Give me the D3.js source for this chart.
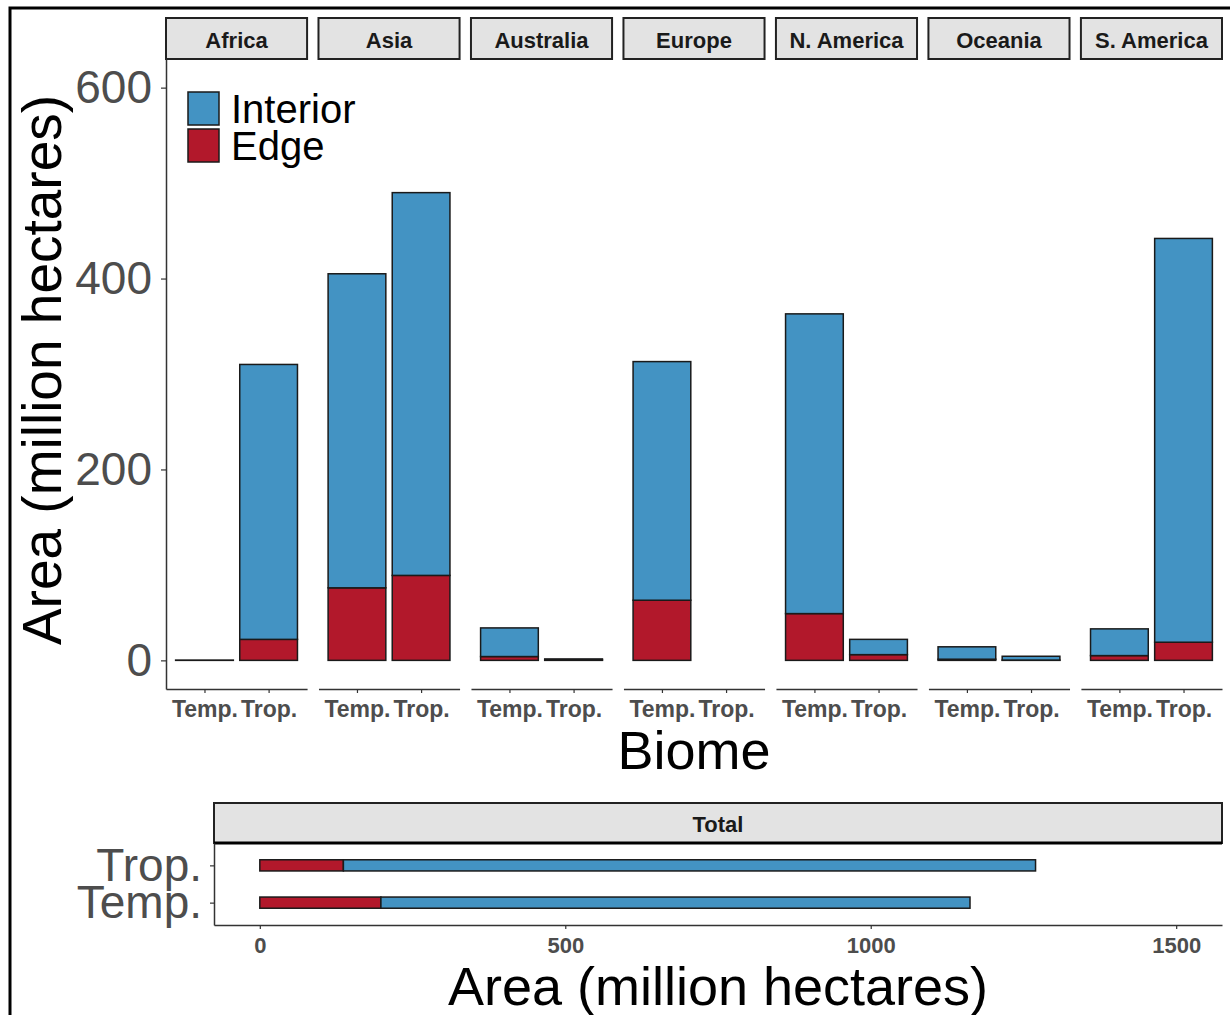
<!DOCTYPE html>
<html>
<head>
<meta charset="utf-8">
<script src="https://cdn.jsdelivr.net/npm/d3@7/dist/d3.min.js"></script>
<style>
  html, body { margin: 0; padding: 0; background: #fff; }
  svg { display: block; font-family: "Liberation Sans", Arial, sans-serif; }
</style>
</head>
<body>
<svg id="chart" width="1230" height="1015"></svg>
<script>
// Forest area by continent and biome, split into edge and interior (million hectares)
const continents = ["Africa", "Asia", "Australia", "Europe", "N. America", "Oceania", "S. America"];
const biomes = ["Temp.", "Trop."];
const components = ["Interior", "Edge"];

// Values per continent, in the order of `continents`; null = biome absent
const tempEdge     = [0,   76,  4,   63,  49,  1.2, 5];
const tempInterior = [0.3, 329, 30,  250, 314, 13,  28];
const tropEdge     = [22,  89,  0.5, null, 6,  0.3, 19];
const tropInterior = [288, 401, 1,   null, 16, 4,   423];

const yTicks = [0, 200, 400, 600];
const totalTicks = [0, 500, 1000, 1500];

const colors = { Interior: "#4393C3", Edge: "#B2182B" };
const tickGray = "#4D4D4D";
const axisGray = "#333333";
const fontFamily = "Liberation Sans, Arial, sans-serif";

const svg = d3.select("#chart");

// Outer frame
svg.append("rect")
  .attr("x", 10).attr("y", 8).attr("width", 1300).attr("height", 1100)
  .attr("fill", "none").attr("stroke", "#000").attr("stroke-width", 3);

// ---------- Faceted stacked bars ----------
const facetArea = { left: 166, right: 1222, stripTop: 18, stripBottom: 59, bottom: 689 };
const gap = 11.4;
const nPanels = continents.length;
const panelW = (facetArea.right - facetArea.left - gap * (nPanels - 1)) / nPanels;

const y = d3.scaleLinear().domain([-30, 630]).range([facetArea.bottom, facetArea.stripBottom]);

const rows = continents.map((c, i) => ({
  continent: c,
  bars: [
    { biome: "Temp.", Edge: tempEdge[i], Interior: tempInterior[i] },
    { biome: "Trop.", Edge: tropEdge[i], Interior: tropInterior[i] }
  ].filter(b => b.Edge !== null)
}));

rows.forEach((row, i) => {
  const x0 = facetArea.left + i * (panelW + gap);
  const g = svg.append("g").attr("transform", `translate(${x0},0)`);
  const x = d3.scalePoint().domain(biomes).range([0, panelW]).padding(0.6);
  const bw = x.step() * 0.9;

  // strip
  g.append("rect")
    .attr("x", 0).attr("y", facetArea.stripTop)
    .attr("width", panelW).attr("height", facetArea.stripBottom - facetArea.stripTop)
    .attr("fill", "#E3E3E3").attr("stroke", "#222").attr("stroke-width", 2);
  g.append("text")
    .attr("x", panelW / 2).attr("y", (facetArea.stripTop + facetArea.stripBottom) / 2)
    .attr("dy", "0.42em").attr("text-anchor", "middle")
    .attr("font-size", 22).attr("font-weight", "bold").attr("fill", "#1A1A1A")
    .text(row.continent);

  // stacked bars: Edge at the base, Interior on top
  const stack = d3.stack().keys(["Edge", "Interior"]);
  const series = stack(row.bars);
  series.forEach(s => {
    g.selectAll(null).data(s).enter().append("rect")
      .attr("x", d => x(d.data.biome) - bw / 2)
      .attr("width", bw)
      .attr("y", d => y(d[1]))
      .attr("height", d => y(d[0]) - y(d[1]))
      .attr("fill", colors[s.key])
      .attr("stroke", "#1A1A1A").attr("stroke-width", 1.5);
  });

  // x axis
  const ax = g.append("g").attr("transform", `translate(0,${facetArea.bottom})`)
    .call(d3.axisBottom(x).tickSize(4).tickSizeOuter(0).tickPadding(8));
  ax.select(".domain").attr("stroke", axisGray).attr("stroke-width", 1.5);
  ax.selectAll(".tick line").attr("stroke", axisGray).attr("stroke-width", 1.2);
  ax.selectAll("text").attr("font-size", 23).attr("font-weight", "bold")
    .attr("fill", tickGray).attr("font-family", fontFamily);

  if (i === 0) {
    const ay = g.append("g")
      .call(d3.axisLeft(y).tickValues(yTicks).tickSize(5).tickSizeOuter(0).tickPadding(9));
    ay.select(".domain").attr("stroke", axisGray).attr("stroke-width", 1.5);
    ay.selectAll(".tick line").attr("stroke", axisGray).attr("stroke-width", 1.2);
    ay.selectAll("text").attr("font-size", 46).attr("fill", tickGray)
      .attr("font-family", fontFamily);
  }
});

// Legend
const legend = svg.append("g").attr("transform", "translate(188,92)");
components.forEach((k, i) => {
  legend.append("rect")
    .attr("x", 0).attr("y", i * 37).attr("width", 31).attr("height", 33)
    .attr("fill", colors[k]).attr("stroke", "#1A1A1A").attr("stroke-width", 1.5);
  legend.append("text")
    .attr("x", 43).attr("y", i * 37 + 17).attr("dy", "0.36em")
    .attr("font-size", 40).attr("fill", "#000").text(k);
});

// Axis titles
svg.append("text")
  .attr("transform", "translate(61,370) rotate(-90)")
  .attr("text-anchor", "middle").attr("font-size", 55).attr("fill", "#000")
  .text("Area (million hectares)");
svg.append("text")
  .attr("x", (facetArea.left + facetArea.right) / 2).attr("y", 769)
  .attr("text-anchor", "middle").attr("font-size", 54).attr("fill", "#000")
  .text("Biome");

// ---------- Totals across continents ----------
const totalArea = { left: 214, right: 1222, stripTop: 803, stripBottom: 843, bottom: 925 };
const totals = [
  { biome: "Temp.", Edge: d3.sum(tempEdge), Interior: d3.sum(tempInterior) },
  { biome: "Trop.", Edge: d3.sum(tropEdge), Interior: d3.sum(tropInterior) }
];

const xt = d3.scaleLinear().domain([-75, 1575]).range([totalArea.left, totalArea.right]);
const yt = d3.scalePoint().domain(["Trop.", "Temp."])
  .range([totalArea.stripBottom, totalArea.bottom]).padding(0.6);
const bh = yt.step() * 0.3;

svg.append("rect")
  .attr("x", totalArea.left).attr("y", totalArea.stripTop)
  .attr("width", totalArea.right - totalArea.left).attr("height", totalArea.stripBottom - totalArea.stripTop)
  .attr("fill", "#E3E3E3").attr("stroke", "#222").attr("stroke-width", 2);
svg.append("line")
  .attr("x1", totalArea.left).attr("x2", totalArea.right)
  .attr("y1", totalArea.stripBottom).attr("y2", totalArea.stripBottom)
  .attr("stroke", "#000").attr("stroke-width", 3);
svg.append("text")
  .attr("x", (totalArea.left + totalArea.right) / 2).attr("y", (totalArea.stripTop + totalArea.stripBottom) / 2)
  .attr("dy", "0.42em").attr("text-anchor", "middle")
  .attr("font-size", 22).attr("font-weight", "bold").attr("fill", "#1A1A1A")
  .text("Total");

const tSeries = d3.stack().keys(["Edge", "Interior"])(totals);
tSeries.forEach(s => {
  svg.selectAll(null).data(s).enter().append("rect")
    .attr("x", d => xt(d[0]))
    .attr("width", d => xt(d[1]) - xt(d[0]))
    .attr("y", d => yt(d.data.biome) - bh / 2)
    .attr("height", bh)
    .attr("fill", colors[s.key])
    .attr("stroke", "#1A1A1A").attr("stroke-width", 1.5);
});

const axb = svg.append("g").attr("transform", `translate(0,${totalArea.bottom})`)
  .call(d3.axisBottom(xt).tickValues(totalTicks).tickFormat(d3.format("d"))
    .tickSize(4).tickSizeOuter(0).tickPadding(8));
axb.select(".domain").attr("stroke", axisGray).attr("stroke-width", 1.5);
axb.selectAll(".tick line").attr("stroke", axisGray).attr("stroke-width", 1.2);
axb.selectAll("text").attr("font-size", 22).attr("font-weight", "bold")
  .attr("fill", tickGray).attr("font-family", fontFamily);

const ayb = svg.append("g").attr("transform", `translate(${totalArea.left},0)`)
  .call(d3.axisLeft(yt).tickSize(4).tickSizeOuter(0).tickPadding(8));
ayb.select(".domain").attr("stroke", axisGray).attr("stroke-width", 1.5);
ayb.selectAll(".tick line").attr("stroke", axisGray).attr("stroke-width", 1.2);
ayb.selectAll("text").attr("font-size", 46).attr("fill", tickGray)
  .attr("font-family", fontFamily);

svg.append("text")
  .attr("x", (totalArea.left + totalArea.right) / 2).attr("y", 1005)
  .attr("text-anchor", "middle").attr("font-size", 54).attr("fill", "#000")
  .text("Area (million hectares)");
</script>
</body>
</html>
